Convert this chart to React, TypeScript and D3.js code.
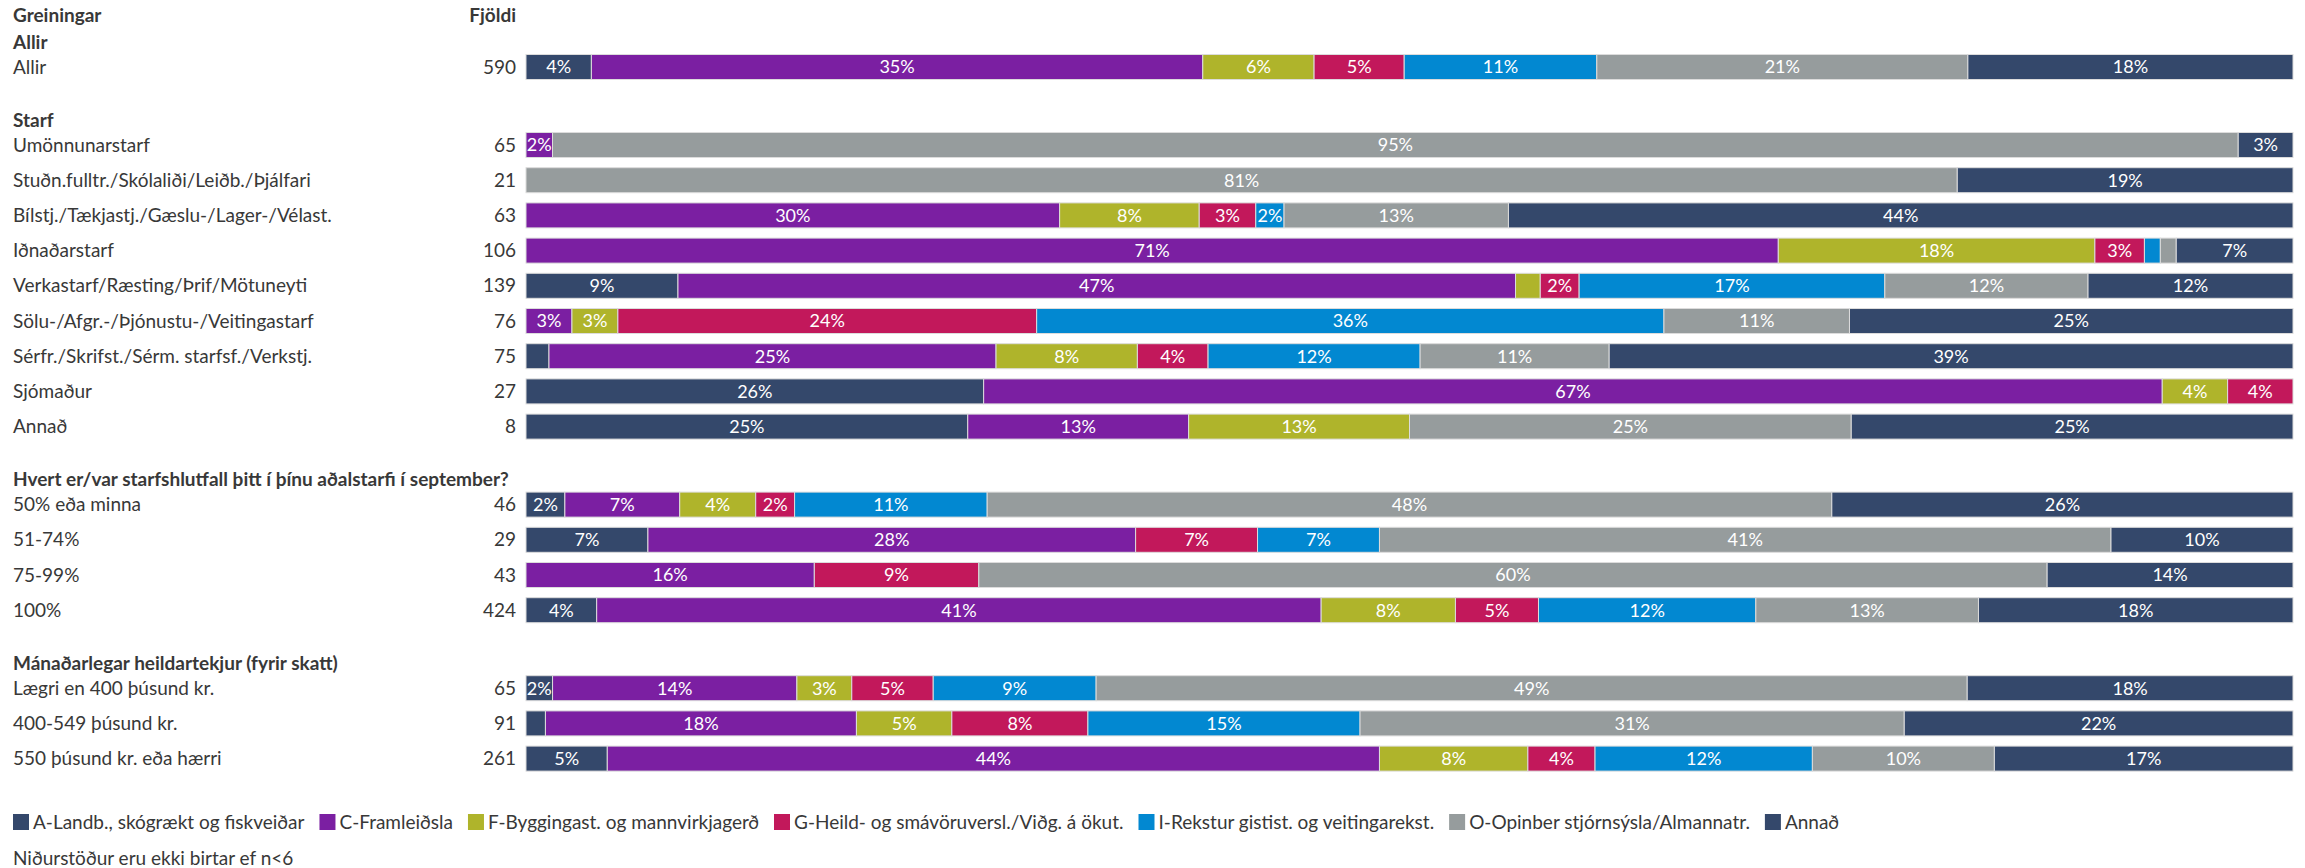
import React, { useEffect, useRef } from 'react';
import * as d3 from 'd3';

// Section headings and which heading each row belongs to
const groupTitles = [
  'Allir',
  'Starf',
  'Hvert er/var starfshlutfall þitt í þínu aðalstarfi í september?',
  'Mánaðarlegar heildartekjur (fyrir skatt)',
];
const rowGroup = [0, 1, 1, 1, 1, 1, 1, 1, 1, 1, 2, 2, 2, 2, 3, 3, 3];

const rowLabels = [
  'Allir',
  'Umönnunarstarf',
  'Stuðn.fulltr./Skólaliði/Leiðb./Þjálfari',
  'Bílstj./Tækjastj./Gæslu-/Lager-/Vélast.',
  'Iðnaðarstarf',
  'Verkastarf/Ræsting/Þrif/Mötuneyti',
  'Sölu-/Afgr.-/Þjónustu-/Veitingastarf',
  'Sérfr./Skrifst./Sérm. starfsf./Verkstj.',
  'Sjómaður',
  'Annað',
  '50% eða minna',
  '51-74%',
  '75-99%',
  '100%',
  'Lægri en 400 þúsund kr.',
  '400-549 þúsund kr.',
  '550 þúsund kr. eða hærri',
];
const counts = [590, 65, 21, 63, 106, 139, 76, 75, 27, 8, 46, 29, 43, 424, 65, 91, 261];

const seriesNames = [
  'A-Landb., skógrækt og fiskveiðar',
  'C-Framleiðsla',
  'F-Byggingast. og mannvirkjagerð',
  'G-Heild- og smávöruversl./Viðg. á ökut.',
  'I-Rekstur gistist. og veitingarekst.',
  'O-Opinber stjórnsýsla/Almannatr.',
  'Annað',
];
const seriesColors = ['#34486b', '#7b1fa2', '#afb42b', '#c2185b', '#0288d1', '#969c9d', '#34486b'];

// percent per row, one array per series
const landb = [3.7, 0, 0, 0, 0, 8.6, 0, 1.3, 25.9, 25, 2.2, 6.9, 0, 4.0, 1.5, 1.1, 4.6];
const framleidsla = [34.6, 1.5, 0, 30.2, 70.8, 47.4, 2.6, 25.3, 66.7, 12.5, 6.5, 27.6, 16.3, 41.0, 13.8, 17.6, 43.7];
const bygging = [6.3, 0, 0, 7.9, 17.9, 1.4, 2.6, 8.0, 3.7, 12.5, 4.3, 0, 0, 7.6, 3.1, 5.4, 8.4];
const verslun = [5.1, 0, 0, 3.2, 2.8, 2.2, 23.7, 4.0, 3.7, 0, 2.2, 6.9, 9.3, 4.7, 4.6, 7.7, 3.8];
const gisting = [10.9, 0, 0, 1.6, 0.9, 17.3, 35.5, 12.0, 0, 0, 10.9, 6.9, 0, 12.3, 9.2, 15.4, 12.3];
const opinber = [21.0, 95.4, 81.0, 12.7, 0.9, 11.5, 10.5, 10.7, 0, 25, 47.8, 41.4, 60.4, 12.6, 49.2, 30.8, 10.3];
const annad = [18.4, 3.1, 19.0, 44.4, 6.6, 11.6, 25.1, 38.7, 0, 25, 26.1, 10.3, 13.9, 17.8, 18.4, 22.0, 16.9];

const seriesValues = [landb, framleidsla, bygging, verslun, gisting, opinber, annad];

const footnote = 'Niðurstöður eru ekki birtar ef n<6';

const App = () => {
  const ref = useRef<SVGSVGElement | null>(null);

  useEffect(() => {
    document.body.style.margin = '0';
    const svg = d3.select(ref.current);
    svg.selectAll('*').remove();

    const font = 'Lato, "Noto Sans", sans-serif';
    const textColor = '#383838';

    // Vertical layout: headings are followed by rows
    const firstHeader = 42;
    const headerToRow = 25;
    const rowStep = 35.2;
    const rowToHeader = 53;
    const barH = 25;

    const headerY: number[] = [];
    const rowY: number[] = [];
    let cursor = firstHeader;
    rowGroup.forEach((g, i) => {
      if (i === 0 || rowGroup[i - 1] !== g) {
        if (i > 0) cursor += rowToHeader;
        headerY[g] = cursor;
        cursor += headerToRow;
      } else {
        cursor += rowStep;
      }
      rowY[i] = cursor;
    });

    // Data table for the stack
    const keys = seriesNames.map((_, k) => `s${k}`);
    const table = rowLabels.map((label, i) => {
      const d: any = { label };
      seriesValues.forEach((arr, k) => { d[`s${k}`] = arr[i]; });
      return d;
    });
    const stacked = d3.stack<any>().keys(keys).offset(d3.stackOffsetExpand)(table);

    const x = d3.scaleLinear().domain([0, 1]).range([526, 2293]);
    const color = d3.scaleOrdinal<string, string>().domain(keys).range(seriesColors);

    // Column headings
    svg.append('text')
      .attr('x', 13).attr('y', 15).attr('dy', '0.35em')
      .style('font-family', font).style('font-weight', 700).style('font-size', '19px')
      .attr('fill', textColor).text('Greiningar');
    svg.append('text')
      .attr('x', 516).attr('y', 15).attr('dy', '0.35em').attr('text-anchor', 'end')
      .style('font-family', font).style('font-weight', 700).style('font-size', '19px')
      .attr('fill', textColor).text('Fjöldi');

    // Group headings
    svg.selectAll('.group-title')
      .data(groupTitles)
      .enter()
      .append('text')
      .attr('class', 'group-title')
      .attr('x', 13)
      .attr('y', (_, g) => headerY[g])
      .attr('dy', '0.35em')
      .style('font-family', font).style('font-weight', 700).style('font-size', '19px')
      .attr('fill', textColor)
      .text(d => d);

    // Row labels and counts
    svg.selectAll('.row-label')
      .data(rowLabels)
      .enter()
      .append('text')
      .attr('class', 'row-label')
      .attr('x', 13)
      .attr('y', (_, i) => rowY[i])
      .attr('dy', '0.35em')
      .style('font-family', font).style('font-size', '19px')
      .attr('fill', textColor)
      .text(d => d);

    svg.selectAll('.row-count')
      .data(counts)
      .enter()
      .append('text')
      .attr('class', 'row-count')
      .attr('x', 516)
      .attr('y', (_, i) => rowY[i])
      .attr('dy', '0.35em')
      .attr('text-anchor', 'end')
      .style('font-family', font).style('font-size', '19px')
      .attr('fill', textColor)
      .text(d => d);

    // Bars
    const layers = svg.selectAll('.layer')
      .data(stacked)
      .enter()
      .append('g')
      .attr('class', 'layer')
      .attr('fill', d => color(d.key));

    layers.selectAll('rect')
      .data(d => d.map((seg, i) => ({ seg, i })))
      .enter()
      .append('rect')
      .filter(d => d.seg[1] - d.seg[0] > 0)
      .attr('x', d => x(d.seg[0]))
      .attr('y', d => rowY[d.i] - barH / 2)
      .attr('width', d => x(d.seg[1]) - x(d.seg[0]))
      .attr('height', barH)
      .attr('stroke', '#dcdcdc')
      .attr('stroke-width', 1);

    // Percent labels inside the segments
    stacked.forEach((layer, k) => {
      layer.forEach((seg, i) => {
        const v = seriesValues[k][i];
        if (Math.round(v) < 2) return;
        svg.append('text')
          .attr('x', (x(seg[0]) + x(seg[1])) / 2)
          .attr('y', rowY[i])
          .attr('dy', '0.36em')
          .attr('text-anchor', 'middle')
          .style('font-family', font)
          .style('font-size', '18px')
          .attr('fill', '#fff')
          .text(`${Math.round(v)}%`);
      });
    });

    // Legend, flowed by measured text width
    const legendY = 822;
    let lx = 13;
    seriesNames.forEach((name, k) => {
      svg.append('rect')
        .attr('x', lx).attr('y', legendY - 8)
        .attr('width', 16).attr('height', 16)
        .attr('fill', seriesColors[k]);
      const t = svg.append('text')
        .attr('x', lx + 20).attr('y', legendY).attr('dy', '0.35em')
        .style('font-family', font).style('font-size', '19px')
        .attr('fill', textColor)
        .text(name);
      const w = (t.node() as SVGTextElement).getComputedTextLength();
      lx += 20 + w + 15;
    });

    svg.append('text')
      .attr('x', 13).attr('y', 858).attr('dy', '0.35em')
      .style('font-family', font).style('font-size', '19px')
      .attr('fill', textColor)
      .text(footnote);
  }, []);

  return <svg ref={ref} width={2305} height={868} style={{ display: 'block', background: '#fff' }} />;
};

export default App;
